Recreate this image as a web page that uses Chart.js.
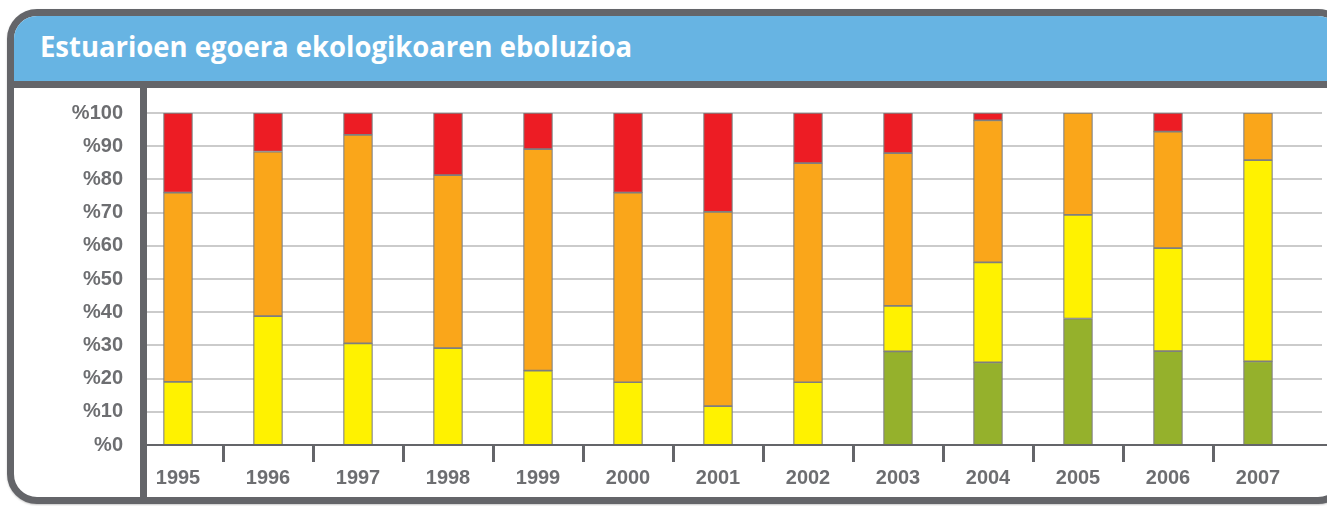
<!DOCTYPE html>
<html>
<head>
<meta charset="utf-8">
<script src="https://cdn.jsdelivr.net/npm/chart.js@4/dist/chart.umd.min.js"></script>
<style>
  html, body { margin: 0; padding: 0; background: #fff; }
  #wrap { position: relative; width: 1327px; height: 506px; overflow: hidden; background: #fff; }
  #frame { position: absolute; left: 7px; top: 9px; width: 1327px; height: 481px; border: 7px solid #646569; border-radius: 30px; background: #fff; box-shadow: 0 1px 2px #c8c8c8; overflow: hidden; }
  #head { position: absolute; left: 0; top: 0; width: 100%; height: 65px; background: #67b4e3; border-bottom: 7px solid #646569; }
  #title { position: absolute; left: 40px; top: 32px; color: #fff; font-family: "Open Sans", sans-serif; font-weight: 700; font-size: 28px; line-height: 1; white-space: nowrap; transform-origin: left top; }
  #vline { position: absolute; left: 140px; top: 88px; width: 7px; height: 412px; background: #646569; z-index: 3; }
  #c { position: absolute; left: 0; top: 0; z-index: 2; }
</style>
</head>
<body>
<div id="wrap">
  <div id="frame"><div id="head"></div></div>
  <div id="title">Estuarioen egoera ekologikoaren eboluzioa</div>
  <canvas id="c" width="1327" height="506"></canvas>
  <div id="vline"></div>
</div>
<script>
// ecological status of estuaries, % per year
var years = ['1995','1996','1997','1998','1999','2000','2001','2002','2003','2004','2005','2006','2007'];
var green  = [0, 0, 0, 0, 0, 0, 0, 0, 28.2, 24.9, 38.1, 28.3, 25.2];
var yellow = [19, 38.8, 30.6, 29.2, 22.4, 18.9, 11.7, 18.9, 13.7, 30.1, 31.2, 31, 60.6];
var orange = [57, 49.6, 62.8, 52.1, 66.7, 57.1, 58.5, 66, 46, 42.8, 30.7, 35.1, 14.2];
var red    = [24, 11.6, 6.6, 18.7, 10.9, 24, 29.8, 15.1, 12.1, 2.2, 0, 5.6, 0];

// squeeze title to the width of the original condensed face
var t = document.getElementById('title');
var mc = document.createElement('canvas').getContext('2d');
mc.font = '700 28px "Open Sans"';
t.style.transform = 'scaleX(' + (592 / mc.measureText(t.textContent).width) + ')';

var gray = '#6d6e71';
var edge = '#7f7f7f';

function ds(label, data, col) {
    return { label: label, data: data, backgroundColor: col, borderColor: edge, borderWidth: 1.2, borderSkipped: false, barThickness: 29 };
}

// horizontal grid + baseline across the full panel width
var gridLines = {
    id: 'gridLines',
    beforeDatasetsDraw: function(chart) {
        var ctx = chart.ctx, y = chart.scales.y;
        ctx.save();
        y.ticks.forEach(function(tk) {
            var py = Math.round(y.getPixelForValue(tk.value));
            if (tk.value === 0) return;
            ctx.strokeStyle = '#cbcbcb'; ctx.lineWidth = 2;
            ctx.beginPath(); ctx.moveTo(147, py); ctx.lineTo(1322, py); ctx.stroke();
        });
        ctx.restore();
    },
    afterDatasetsDraw: function(chart) {
        var ctx = chart.ctx, y0 = Math.round(chart.scales.y.getPixelForValue(0));
        ctx.save();
        ctx.strokeStyle = '#646569'; ctx.lineWidth = 2;
        ctx.beginPath(); ctx.moveTo(147, y0); ctx.lineTo(1327, y0); ctx.stroke();
        ctx.restore();
    }
};

new Chart(document.getElementById('c'), {
    type: 'bar',
    data: {
        labels: years,
        datasets: [ds('green', green, '#95b12c'), ds('yellow', yellow, '#fff200'), ds('orange', orange, '#faa61a'), ds('red', red, '#ed1c24')]
    },
    options: {
        responsive: false,
        animation: false,
        layout: { padding: { left: 0, right: 24, top: 113, bottom: 0 } },
        plugins: { legend: { display: false }, tooltip: { enabled: false } },
        scales: {
            x: {
                stacked: true,
                offset: true,
                border: { display: false },
                grid: {
                    offset: true, drawOnChartArea: false, drawTicks: true, tickLength: 17, lineWidth: 3,
                    // only the marks between years, none at the two ends
                    color: function(c) { return (c.type !== 'tick' || c.index === 0) ? 'rgba(0,0,0,0)' : '#646569'; }
                },
                ticks: { color: gray, font: { family: '"Liberation Sans", Arial, sans-serif', weight: 'bold', size: 20 }, padding: 4, maxRotation: 0 },
                afterFit: function(s) { s.height = 61; }
            },
            y: {
                stacked: true,
                min: 0, max: 100,
                border: { display: false },
                grid: { display: false, drawTicks: false },
                ticks: { stepSize: 10, color: gray, padding: 10, font: { family: '"Liberation Sans", Arial, sans-serif', weight: 'bold', size: 20 },
                    callback: function(v) { return '%' + v; } },
                afterFit: function(s) { s.width = 133; }
            }
        }
    },
    plugins: [gridLines]
});
</script>
</body>
</html>
